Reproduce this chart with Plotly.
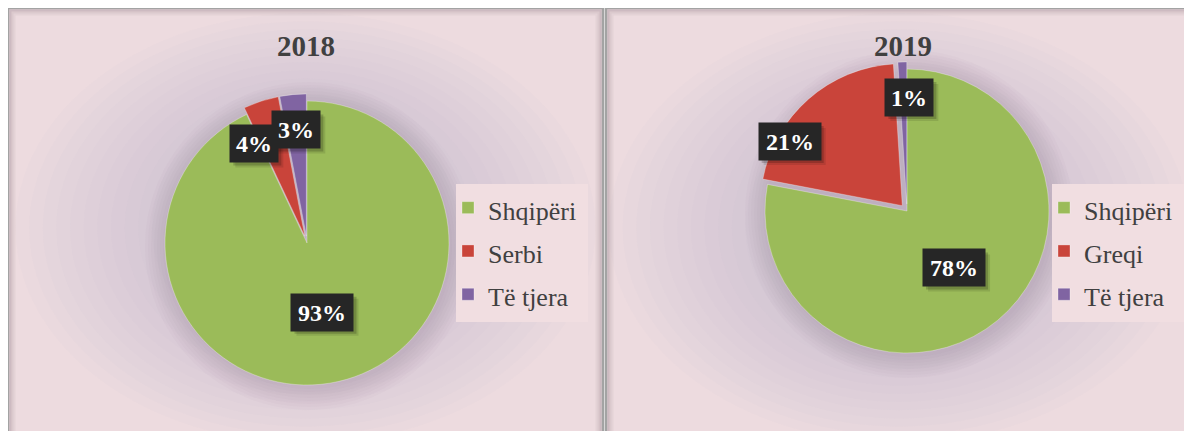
import math
import plotly.graph_objects as go

W, H = 1192, 431
OFF = 8  # page body margin in the screenshot

# ---- data ----
titles = ["2018", "2019"]
labels_2018 = ["Shqipëri", "Serbi", "Të tjera"]
values_2018 = [93, 4, 3]
labels_2019 = ["Shqipëri", "Greqi", "Të tjera"]
values_2019 = [78, 21, 1]
slice_colors = ["#9BBB59", "#C9443A", "#8064A2"]

FONT = "Liberation Serif"

panels = [
    dict(title=titles[0], labels=labels_2018, values=values_2018, pull=[0, 0.05, 0.05],
         box=(8, 603), cx=307, cy=243, r=142, title_x=306, legend="legend", legend_x=448,
         legbox=(456, 588), lab_f=[0.5, 0.79, 0.8], lab_nudge=[0, -10, 0], span="font-size:26px"),
    dict(title=titles[1], labels=labels_2019, values=values_2019, pull=[0, 0.05, 0.05],
         box=(606, 1210), cx=907, cy=211, r=142, title_x=903, legend="legend2", legend_x=1044,
         legbox=(1052, 1190), lab_f=[0.52, 0.96, 0.8], lab_nudge=[0, -18, 3], span="font-size:26px;"),
]


def px(x):
    return (x - OFF) / W


def py(y):
    return 1 - (y - OFF) / H


fig = go.Figure()
shapes = []
annotations = []

for p in panels:
    x0, x1 = p["box"]
    cx, cy, r = p["cx"], p["cy"], p["r"]
    # panel background
    shapes.append(dict(type="rect", xref="paper", yref="paper", x0=px(x0), x1=px(x1),
                       y0=py(460), y1=py(8), fillcolor="#EDDBDF", line=dict(width=0), layer="below"))
    # soft radial gradient
    gx, gy = (x0 + min(x1, 1192)) / 2, 228
    n = 12
    for k in range(n):
        t = k / (n - 1)
        rx = 290 - 150 * t
        ry = 215 - 90 * t
        shapes.append(dict(type="circle", xref="paper", yref="paper",
                           x0=px(gx - rx), x1=px(gx + rx), y0=py(gy + ry), y1=py(gy - ry),
                           fillcolor="rgba(190,168,202,0.04)", line=dict(width=0), layer="below"))
    # pie halo
    for k in range(8):
        rr = r + 22 - 3 * k
        shapes.append(dict(type="circle", xref="paper", yref="paper",
                           x0=px(cx + 2 - rr), x1=px(cx + 2 + rr), y0=py(cy + 3 + rr), y1=py(cy + 3 - rr),
                           fillcolor="rgba(140,108,150,0.035)", line=dict(width=0), layer="below"))
    # border + inner shadow
    shapes.append(dict(type="rect", xref="paper", yref="paper", x0=px(x0), x1=px(x1),
                       y0=py(460), y1=py(8), fillcolor="rgba(0,0,0,0)",
                       line=dict(color="#A3A3A3", width=2.5), layer="below"))
    for i, a in enumerate([0.22, 0.12, 0.06]):
        ins = 2.5 + 2 * i
        shapes.append(dict(type="rect", xref="paper", yref="paper", x0=px(x0 + ins), x1=px(x1 - ins),
                           y0=py(460), y1=py(8 + ins), fillcolor="rgba(0,0,0,0)",
                           line=dict(color=f"rgba(90,70,85,{a})", width=2), layer="below"))
    # legend background box
    lb0, lb1 = p["legbox"]
    shapes.append(dict(type="rect", xref="paper", yref="paper", x0=px(lb0), x1=px(lb1),
                       y0=py(322), y1=py(184), fillcolor="#F1DEE1", line=dict(width=0), layer="below"))

    half = r * (1 + max(p["pull"]))
    leg_labels = [f"<span style='{p['span']}'>{lab}</span>" for lab in p["labels"]]
    fig.add_trace(go.Pie(
        labels=leg_labels, values=p["values"], sort=False, direction="clockwise", rotation=0,
        pull=p["pull"], textinfo="none", hoverinfo="label+percent",
        marker=dict(colors=slice_colors, line=dict(color="rgba(255,255,255,0.5)", width=0.6)),
        domain=dict(x=[px(cx - half), px(cx + half)], y=[py(cy + half), py(cy - half)]),
        legend=p["legend"], showlegend=True,
    ))

    # title
    annotations.append(dict(xref="paper", yref="paper", x=px(p["title_x"]), y=py(46),
                            xanchor="center", yanchor="middle", showarrow=False,
                            text=f"<b>{p['title']}</b>",
                            font=dict(family=FONT, size=29, color="#404040")))

    # data labels
    tot = sum(p["values"])
    cum = 0
    for i, v in enumerate(p["values"]):
        mid = (cum + v / 2) / tot * 360 + p["lab_nudge"][i]
        cum += v
        a = math.radians(mid)
        f = p["lab_f"][i] * r
        lx = cx + f * math.sin(a)
        ly = cy - f * math.cos(a)
        txt = f"{round(v / tot * 100)}%"
        w = 14 * len(txt) + 20
        bh = 37
        for d, col in [(5, "rgba(0,0,0,0.10)"), (3, "rgba(0,0,0,0.18)")]:
            shapes.append(dict(type="rect", xref="paper", yref="paper",
                               x0=px(lx - w / 2 + d), x1=px(lx + w / 2 + d),
                               y0=py(ly + bh / 2 + d), y1=py(ly - bh / 2 + d),
                               fillcolor=col, line=dict(width=0), layer="above"))
        annotations.append(dict(xref="paper", yref="paper", x=px(lx), y=py(ly),
                                xanchor="center", yanchor="middle", showarrow=False,
                                text=f"<b>{txt}</b>", width=w, height=bh, borderpad=0,
                                bgcolor="#262626",
                                font=dict(family=FONT, size=24, color="white")))

leg_common = dict(yanchor="top", xanchor="left", y=py(181), bgcolor="rgba(0,0,0,0)", borderwidth=0,
                  font=dict(family=FONT, size=31, color="#404040"),
                  itemclick=False, itemdoubleclick=False)

fig.update_layout(
    width=W, height=H, autosize=False,
    margin=dict(l=0, r=0, t=0, b=0),
    paper_bgcolor="white", plot_bgcolor="white",
    shapes=shapes, annotations=annotations,
    legend=dict(x=px(panels[0]["legend_x"]), **leg_common),
    legend2=dict(x=px(panels[1]["legend_x"]), **leg_common),
)

fig.write_html("out.html")
